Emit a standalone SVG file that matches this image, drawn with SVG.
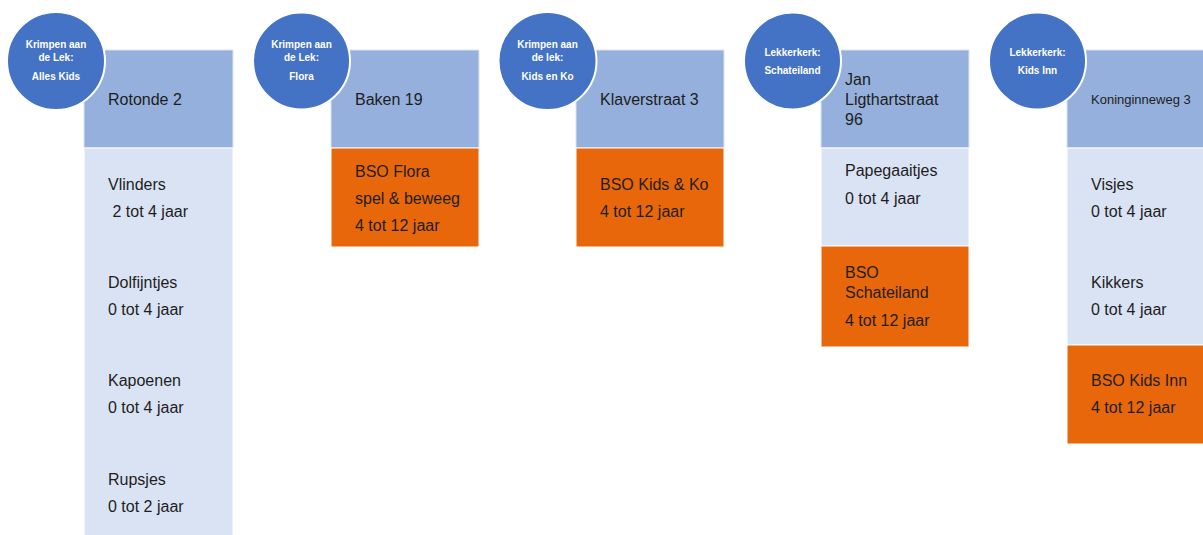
<svg xmlns="http://www.w3.org/2000/svg" width="1203" height="535" viewBox="0 0 1203 535">
<style>
.hd{fill:#95B0DC;stroke:#DCE4F2;stroke-width:1}
.lt{fill:#DAE3F3;stroke:#FFFFFF;stroke-width:1}
.or{fill:#E8670B;stroke:#FFFFFF;stroke-width:1}
.ci{fill:#4472C4;stroke:#FFFFFF;stroke-width:2}
.t{font-family:"Liberation Sans",Arial,sans-serif;font-size:16px;fill:#1E1E1E}
.ts{font-family:"Liberation Sans",Arial,sans-serif;font-size:13px;fill:#1E1E1E}
.c{font-family:"Liberation Sans",Arial,sans-serif;font-size:10px;font-weight:bold;fill:#FFFFFF;text-anchor:middle}
</style>
<g id="connectors"></g>
<g id="col1">
<rect class="hd" x="84" y="50" width="149" height="98"/>
<rect class="lt" x="84" y="148" width="149" height="388"/>
<text class="t" x="108" y="105">Rotonde 2</text>
<text class="t" x="108" y="190">Vlinders</text>
<text class="t" x="108" y="217" xml:space="preserve"> 2 tot 4 jaar</text>
<text class="t" x="108" y="288">Dolfijntjes</text>
<text class="t" x="108" y="315">0 tot 4 jaar</text>
<text class="t" x="108" y="386">Kapoenen</text>
<text class="t" x="108" y="413">0 tot 4 jaar</text>
<text class="t" x="108" y="485">Rupsjes</text>
<text class="t" x="108" y="512">0 tot 2 jaar</text>
</g>
<g id="circle1">
<circle class="ci" cx="56" cy="61" r="49"/>
<text class="c" x="56" y="48">Krimpen aan</text>
<text class="c" x="56" y="61">de Lek:</text>
<text class="c" x="56" y="80">Alles Kids</text>
</g>
<g id="col2">
<rect class="hd" x="331" y="50" width="148" height="98"/>
<rect class="or" x="331" y="148" width="148" height="99"/>
<text class="t" x="355" y="105">Baken 19</text>
<text class="t" x="355" y="177">BSO Flora</text>
<text class="t" x="355" y="204">spel &amp; beweeg</text>
<text class="t" x="355" y="231">4 tot 12 jaar</text>
</g>
<g id="circle2">
<circle class="ci" cx="301.5" cy="61" r="48.5"/>
<text class="c" x="301.5" y="48">Krimpen aan</text>
<text class="c" x="301.5" y="61">de Lek:</text>
<text class="c" x="301.5" y="80">Flora</text>
</g>
<g id="col3">
<rect class="hd" x="576" y="50" width="148" height="98"/>
<rect class="or" x="576" y="148" width="148" height="99"/>
<text class="t" x="600" y="105">Klaverstraat 3</text>
<text class="t" x="600" y="190">BSO Kids &amp; Ko</text>
<text class="t" x="600" y="217">4 tot 12 jaar</text>
</g>
<g id="circle3">
<circle class="ci" cx="547.5" cy="61" r="49"/>
<text class="c" x="547.5" y="48">Krimpen aan</text>
<text class="c" x="547.5" y="61">de lek:</text>
<text class="c" x="547.5" y="80">Kids en Ko</text>
</g>
<g id="col4">
<rect class="hd" x="821" y="50" width="148" height="98"/>
<rect class="lt" x="821" y="148" width="148" height="98"/>
<rect class="or" x="821" y="246" width="148" height="101"/>
<text class="t" x="845" y="85">Jan</text>
<text class="t" x="845" y="105">Ligthartstraat</text>
<text class="t" x="845" y="125">96</text>
<text class="t" x="845" y="176">Papegaaitjes</text>
<text class="t" x="845" y="204">0 tot 4 jaar</text>
<text class="t" x="845" y="278">BSO</text>
<text class="t" x="845" y="298">Schateiland</text>
<text class="t" x="845" y="326">4 tot 12 jaar</text>
</g>
<g id="circle4">
<circle class="ci" cx="792.5" cy="61" r="48.5"/>
<text class="c" x="792.5" y="56">Lekkerkerk:</text>
<text class="c" x="792.5" y="74">Schateiland</text>
</g>
<g id="col5">
<rect class="hd" x="1067" y="50" width="137" height="98"/>
<rect class="lt" x="1067" y="148" width="137" height="197"/>
<rect class="or" x="1067" y="345" width="137" height="99"/>
<text class="ts" x="1091" y="104">Koninginneweg 3</text>
<text class="t" x="1091" y="190">Visjes</text>
<text class="t" x="1091" y="217">0 tot 4 jaar</text>
<text class="t" x="1091" y="288">Kikkers</text>
<text class="t" x="1091" y="315">0 tot 4 jaar</text>
<text class="t" x="1091" y="386">BSO Kids Inn</text>
<text class="t" x="1091" y="413">4 tot 12 jaar</text>
</g>
<g id="circle5">
<circle class="ci" cx="1037.5" cy="61" r="48.5"/>
<text class="c" x="1037.5" y="56">Lekkerkerk:</text>
<text class="c" x="1037.5" y="74">Kids Inn</text>
</g>
</svg>
